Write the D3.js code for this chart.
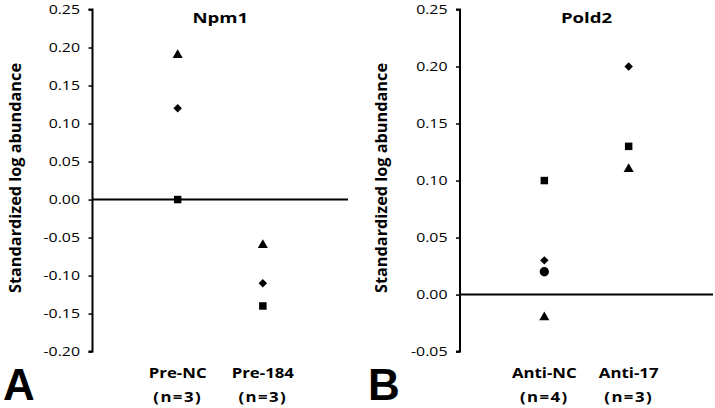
<!DOCTYPE html>
<html><head><meta charset="utf-8">
<script src="https://cdn.jsdelivr.net/npm/d3@7"></script>
<style>body{margin:0;background:#fff}svg{display:block}</style>
</head><body>
<svg id="c" width="715" height="408"></svg>
<script>
// Panel A: Npm1
const npmCategories = ["Pre-NC", "Pre-184"];
const npmN = ["(n=3)", "(n=3)"];
const npmTriangle = [0.19, -0.06];
const npmDiamond = [0.12, -0.11];
const npmSquare = [0.00, -0.14];
const npmTicks = [0.25, 0.20, 0.15, 0.10, 0.05, 0.00, -0.05, -0.10, -0.15, -0.20];

// Panel B: Pold2
const poldCategories = ["Anti-NC", "Anti-17"];
const poldN = ["(n=4)", "(n=3)"];
const poldSquare = [0.10, 0.13];
const poldDiamond = [0.03, 0.20];
const poldCircle = [0.02, null];
const poldTriangle = [-0.02, 0.11];
const poldTicks = [0.25, 0.20, 0.15, 0.10, 0.05, 0.00, -0.05];

const svg = d3.select("#c");
const FONT = "'Open Sans', Lato, sans-serif";
const SX = 1.24; // horizontal stretch of the reference text

function htext(g, x, y, str, opts) {
  const t = g.append("text")
    .attr("transform", `translate(${x},${y}) scale(${opts.sx || SX},1)`)
    .attr("text-anchor", opts.anchor || "middle")
    .attr("font-family", opts.family || FONT)
    .attr("font-weight", opts.weight || "normal")
    .attr("font-size", opts.size)
    .attr("fill", "#000")
    .text(str);
  if (opts.ls) t.attr("letter-spacing", opts.ls);
  return t;
}

function panel(o) {
  const g = svg.append("g");
  const x = d3.scaleLinear().domain([0, 3]).range([o.left, o.right]);
  const y = d3.scaleLinear().domain([o.ymin, 0.25]).range([351.6, 9.5]);

  // y axis
  const ax = g.append("g").attr("transform", `translate(${o.left},0)`)
    .call(d3.axisLeft(y).tickValues(o.ticks).tickSize(4).tickFormat(""));
  ax.select(".domain").attr("stroke", "#000").attr("stroke-width", 2)
    .attr("d", `M-4,${y(0.25)}H0V${y(o.ymin)}H-4`);
  ax.selectAll(".tick line").attr("stroke", "#000").attr("stroke-width", 1.5);
  o.ticks.forEach(v => {
    htext(g, o.left - 12.5, y(v) + 4.5, d3.format(".2f")(v).replace("\u2212", "-"),
      {anchor: "end", size: 12.8});
  });

  // zero line
  g.append("line").attr("x1", o.left).attr("x2", o.right).attr("y1", y(0)).attr("y2", y(0))
    .attr("stroke", "#000").attr("stroke-width", 2);

  // title
  htext(g, x(1.5), 22.7, o.title, {weight: "bold", size: 15});

  // y label
  g.append("text").attr("transform", `translate(${o.labelX},178) rotate(-90)`)
    .attr("text-anchor", "middle").attr("font-family", FONT).attr("font-weight", "bold")
    .attr("font-size", 16).attr("textLength", 230).attr("lengthAdjust", "spacingAndGlyphs")
    .text("Standardized log abundance");

  // category labels
  o.cats.forEach((c, i) => {
    htext(g, x(i + 1), 378.3, c, {weight: "bold", size: 14, sx: 1.2});
    htext(g, x(i + 1), 402.3, o.ns[i], {weight: "bold", size: 14, sx: 1.2, ls: 1.2});
  });

  // panel letter
  g.append("text").attr("x", o.letterX).attr("y", 400)
    .attr("font-family", "'Liberation Sans', Arial, sans-serif")
    .attr("font-weight", "bold").attr("font-size", 44).text(o.letter);

  // markers
  const sym = {
    triangle: d3.symbol().type(d3.symbolTriangle).size(44),
    diamond: d3.symbol().type(d3.symbolDiamond2).size(46),
    square: d3.symbol().type(d3.symbolSquare).size(56),
    circle: d3.symbol().type(d3.symbolCircle).size(68)
  };
  o.series.forEach(s => {
    s.values.forEach((v, i) => {
      if (v === null) return;
      g.append("path").attr("d", sym[s.shape]()).attr("fill", "#000")
        .attr("transform", `translate(${x(i + 1)},${y(v)})`);
    });
  });
}

panel({
  left: 92.5, right: 348, ymin: -0.20, ticks: npmTicks, title: "Npm1",
  labelX: 20.5, cats: npmCategories, ns: npmN, letter: "A", letterX: 3,
  series: [
    {shape: "triangle", values: npmTriangle},
    {shape: "diamond", values: npmDiamond},
    {shape: "square", values: npmSquare}
  ]
});

panel({
  left: 460, right: 713, ymin: -0.05, ticks: poldTicks, title: "Pold2",
  labelX: 387, cats: poldCategories, ns: poldN, letter: "B", letterX: 368,
  series: [
    {shape: "square", values: poldSquare},
    {shape: "diamond", values: poldDiamond},
    {shape: "circle", values: poldCircle},
    {shape: "triangle", values: poldTriangle}
  ]
});
</script>
</body></html>
